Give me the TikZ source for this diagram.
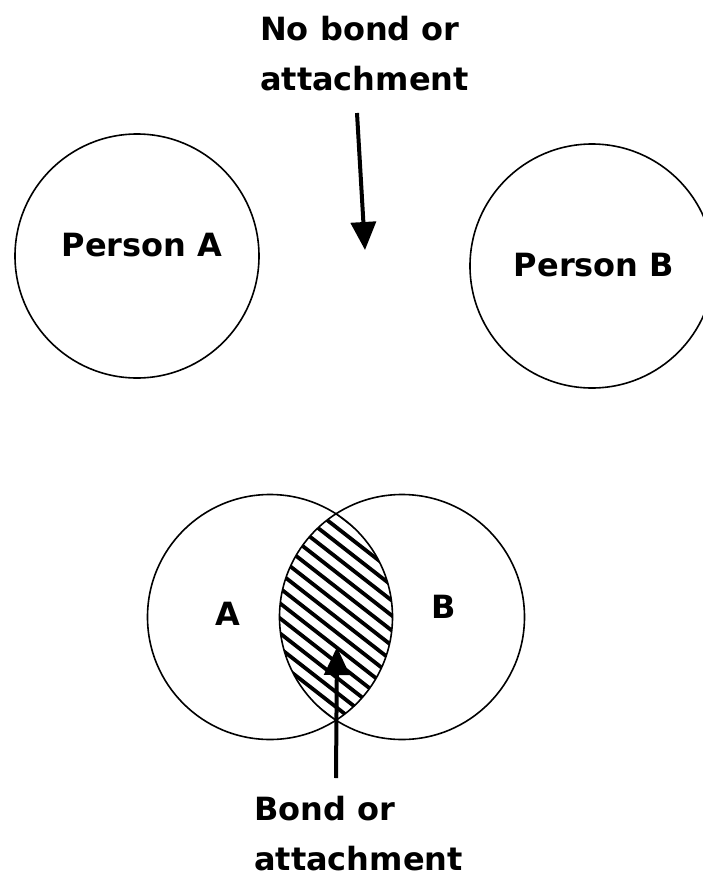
\documentclass[tikz,border=0pt]{standalone}
\usepackage{fontspec}
\setmainfont{DejaVu Sans}
\usepackage{tikz}
\usetikzlibrary{positioning,arrows.meta}
\definecolor{ink}{HTML}{000000}
\tikzset{
  person/.style={circle,draw=ink,line width=1.6pt,minimum size=244pt,inner sep=0pt},
  lbl/.style={font=\fontsize{32}{50}\selectfont\bfseries,text=ink,inner sep=0pt},
  note/.style={lbl,align=left,anchor=north west},
  ar/.style={-{Triangle[length=28pt,width=25pt]},line width=4pt,draw=ink},
  hatch/.style={line width=3.8pt,draw=ink},
}

\begin{document}
\begin{tikzpicture}[x=1pt,y=-1pt]
  \useasboundingbox (0,0) rectangle (703,879);
  \clip (0,0) rectangle (703,879);
  % apart
  \node[person] (pA) at (137,256) {};
  \node[person] (pB) at (592,266) {};
  \node[lbl] (tA) at (142,245) {Person A};
  \node[lbl] (tB) at (594,265) {Person B};
  \node[note] (nobond) at (260,16) {No bond or\\attachment};
  \coordinate (topTail) at (357,113);
  \coordinate (topTip) at (365,250);
  \draw[ar] (topTail)--(topTip);
  % overlap
  \begin{scope}
    \clip (270,617) circle (122.5pt);
    \clip (402,617) circle (122.5pt);
    \foreach \k in {-12,...,12} \draw[hatch] (186,617+\k*15-117) -- ++(300,234);
  \end{scope}
  \node[person,minimum size=245pt] (cA) at (270,617) {};
  \node[person,minimum size=245pt] (cB) at (402,617) {};
  \node[lbl] (sA) at (228,614) {A};
  \node[lbl] (sB) at (444,607) {B};
  \node[note] (bond) at (254,796) {Bond or\\attachment};
  \coordinate (botTail) at (336,778);
  \coordinate (botTip) at (337,647);
  \draw[ar] (botTail)--(botTip);
\end{tikzpicture}
\end{document}
